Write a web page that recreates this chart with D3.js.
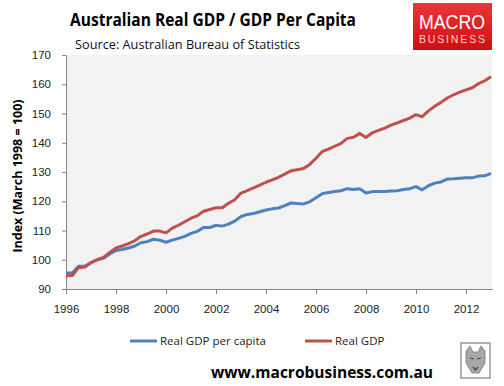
<!DOCTYPE html>
<html lang="en">
<head>
<meta charset="UTF-8">
<title>Australian Real GDP / GDP Per Capita</title>
<style>
    body { margin: 0; background: #fff; }
    svg { display: block; font-family: "Open Sans", "DejaVu Sans", sans-serif; }
    .tick text { font-size: 11.5px; fill: #222; }
    .domain, .tick line { stroke: #868686; }
</style>
</head>
<body>
<div id="chart"></div>
<script src="https://cdn.jsdelivr.net/npm/d3@7"></script>
<script>
    // quarterly, first quarter of 1996 to first quarter of 2013
    const startYear = 1996;
    const perCapita = [
        95.5, 95.5, 97.8, 97.8, 99.0, 100.0, 100.5, 102.0,
        103.2, 103.5, 104.0, 104.7, 105.8, 106.2, 107.0, 106.7,
        106.0, 106.7, 107.3, 108.0, 109.0, 109.7, 111.0, 111.0,
        111.8, 111.5, 112.2, 113.2, 114.8, 115.5, 115.8, 116.4,
        117.0, 117.4, 117.7, 118.5, 119.4, 119.2, 119.1, 119.8,
        121.2, 122.6, 123.0, 123.3, 123.6, 124.3, 124.0, 124.3,
        122.8, 123.3, 123.3, 123.3, 123.5, 123.6, 124.0, 124.3,
        125.0, 123.9, 125.3, 126.2, 126.6, 127.6, 127.7, 127.9,
        128.0, 128.0, 128.6, 128.7, 129.5
    ];
    const realGdp = [
        94.5, 94.6, 97.3, 97.5, 99.0, 100.0, 100.8, 102.5,
        104.0, 104.7, 105.5, 106.5, 108.0, 108.8, 109.8, 109.8,
        109.2, 110.8, 111.8, 113.0, 114.2, 115.0, 116.6, 117.2,
        117.8, 117.8, 119.3, 120.5, 122.8, 123.6, 124.6, 125.5,
        126.5, 127.3, 128.2, 129.3, 130.4, 130.8, 131.2, 132.6,
        134.7, 137.0, 137.8, 138.8, 139.8, 141.5, 141.9, 143.2,
        141.8, 143.4, 144.2, 145.0, 146.0, 146.8, 147.6, 148.4,
        149.6, 148.9, 150.9, 152.5, 153.8, 155.3, 156.4, 157.3,
        158.1, 158.8, 160.2, 161.2, 162.6
    ];
    const xTicks = [1996, 1998, 2000, 2002, 2004, 2006, 2008, 2010, 2012];
    const yTicks = [90, 100, 110, 120, 130, 140, 150, 160, 170];
    const seriesNames = ["Real GDP per capita", "Real GDP"];
    const seriesColors = ["#4f81bd", "#c0504d"];

    const W = 504, H = 386;
    const plot = { left: 66, right: 492, top: 55, bottom: 289 };

    const svg = d3.select("#chart").append("svg")
        .attr("width", W)
        .attr("height", H);

    const x = d3.scaleLinear()
        .domain([1996, 2013.04])
        .range([plot.left, plot.right]);
    const y = d3.scaleLinear()
        .domain([90, 170])
        .range([plot.bottom, plot.top]);

    // plot background
    svg.append("rect")
        .attr("x", plot.left).attr("y", plot.top)
        .attr("width", plot.right - plot.left)
        .attr("height", plot.bottom - plot.top)
        .attr("fill", "#f2f2f2");

    // axes
    svg.append("g")
        .attr("transform", "translate(0," + plot.bottom + ")")
        .call(d3.axisBottom(x).tickValues(xTicks).tickFormat(d3.format("d"))
            .tickSizeInner(5).tickSizeOuter(0).tickPadding(11));

    svg.append("g")
        .attr("transform", "translate(" + plot.left + ",0)")
        .call(d3.axisLeft(y).tickValues(yTicks).tickSizeInner(4).tickSizeOuter(0).tickPadding(11));

    // lines
    const line = d3.line()
        .x((d, i) => x(startYear + i / 4))
        .y(d => y(d));

    [perCapita, realGdp].forEach((vals, k) => {
        svg.append("path")
            .datum(vals)
            .attr("fill", "none")
            .attr("stroke", seriesColors[k])
            .attr("stroke-width", 3)
            .attr("stroke-linejoin", "round")
            .attr("d", line);
    });

    // titles
    svg.append("text")
        .attr("x", 70).attr("y", 26)
        .attr("font-size", 18).attr("font-weight", "bold")
        .attr("textLength", 286).attr("lengthAdjust", "spacingAndGlyphs")
        .text("Australian Real GDP / GDP Per Capita");

    svg.append("text")
        .attr("x", 75).attr("y", 49)
        .attr("font-size", 13).attr("fill", "#111")
        .attr("textLength", 225).attr("lengthAdjust", "spacingAndGlyphs")
        .text("Source: Australian Bureau of Statistics");

    // y axis title
    svg.append("text")
        .attr("transform", "translate(22,176) rotate(-90)")
        .attr("text-anchor", "middle")
        .attr("font-size", 12.5).attr("font-weight", "bold")
        .text("Index (March 1998 = 100)");

    // legend
    const legendX = [130, 305];
    seriesNames.forEach((name, k) => {
        svg.append("line")
            .attr("x1", legendX[k]).attr("x2", legendX[k] + 27)
            .attr("y1", 341).attr("y2", 341)
            .attr("stroke", seriesColors[k]).attr("stroke-width", 3);
        svg.append("text")
            .attr("x", legendX[k] + 30).attr("y", 345)
            .attr("font-size", 11.5).attr("fill", "#222")
            .text(name);
    });

    // logo
    const grad = svg.append("defs").append("linearGradient")
        .attr("id", "logoGrad").attr("x1", 0).attr("y1", 0).attr("x2", 0).attr("y2", 1);
    grad.append("stop").attr("offset", "0%").attr("stop-color", "#e8383a");
    grad.append("stop").attr("offset", "100%").attr("stop-color", "#d10d12");

    svg.append("rect")
        .attr("x", 413).attr("y", 3).attr("width", 79).attr("height", 47)
        .attr("fill", "url(#logoGrad)");
    svg.append("text")
        .attr("x", 452).attr("y", 29).attr("text-anchor", "middle")
        .attr("font-family", "Liberation Sans, Arial, sans-serif")
        .attr("font-size", 20).attr("fill", "#fff")
        .attr("textLength", 66).attr("lengthAdjust", "spacingAndGlyphs")
        .text("MACRO");
    svg.append("text")
        .attr("x", 452).attr("y", 43).attr("text-anchor", "middle")
        .attr("font-family", "Liberation Sans, Arial, sans-serif")
        .attr("font-size", 10.5).attr("fill", "#fbd0d0")
        .attr("textLength", 66).attr("lengthAdjust", "spacing")
        .text("BUSINESS");

    // footer
    svg.append("text")
        .attr("x", 211).attr("y", 378)
        .attr("font-size", 16).attr("font-weight", "bold")
        .attr("textLength", 222).attr("lengthAdjust", "spacingAndGlyphs")
        .text("www.macrobusiness.com.au");

    // wolf badge
    const badge = svg.append("g").attr("transform", "translate(461,343)");
    badge.append("rect")
        .attr("width", 29).attr("height", 35)
        .attr("fill", "#fff").attr("stroke", "#999").attr("stroke-width", 1.5);
    badge.append("path")
        .attr("d", "M5,8 L9,3 L12,9 L17,9 L20,3 L24,8 L24,20 L18,30 L11,30 L5,20 Z")
        .attr("fill", "#a8a8a8").attr("stroke", "#777").attr("stroke-width", 0.8);
    badge.append("path")
        .attr("d", "M9,15 L13,16 M16,16 L20,15 M12,24 L14.5,27 L17,24")
        .attr("fill", "none").attr("stroke", "#444").attr("stroke-width", 1.2);
</script>
</body>
</html>
